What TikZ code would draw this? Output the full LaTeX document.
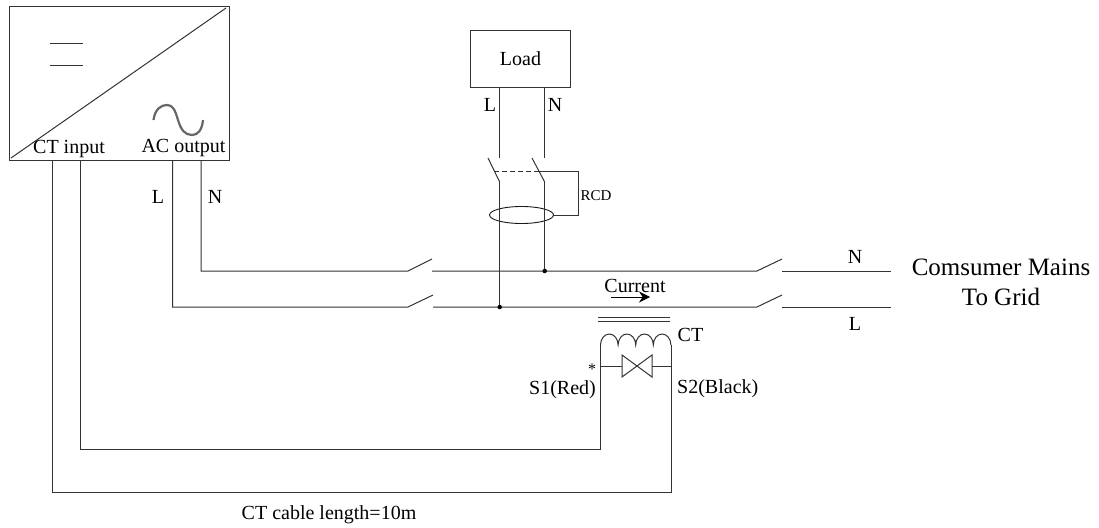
\documentclass[tikz,border=0pt]{standalone}
\usepackage{fontspec}
\setmainfont{Liberation Serif}
\usetikzlibrary{arrows.meta}
\usetikzlibrary{positioning}
\usetikzlibrary{shapes.geometric}
\tikzset{
	wire/.style={draw=black!80, line width=1pt},
	tag/.style={inner sep=0pt, font=\fontsize{20}{22}\selectfont},
	dotjoin/.style={circle, fill=black, inner sep=0pt, minimum size=4.5pt},
}

\begin{document}
\begin{tikzpicture}[x=1pt,y=-1pt]
	\useasboundingbox (0,0) rectangle (1099,527);

	% inverter box
	\node[wire, draw, minimum width=220.5pt, minimum height=154pt, inner sep=0pt, anchor=north west] (inverter) at (8.5,6) {};
	\coordinate (diagstart) at (11,158);
	\coordinate (diagend) at (226,8);
	\draw[wire] (diagstart) -- (diagend);
	\coordinate (dcA) at (50,44);
	\coordinate (dcB) at (83,44);
	\coordinate (dcC) at (50,65);
	\coordinate (dcD) at (83,65);
	\draw[wire] (dcA) -- (dcB);
	\draw[wire] (dcC) -- (dcD);
	\draw[draw=black!60, line width=2.2pt] (153.5,120) .. controls (155,109) and (161,105) .. (167,105) .. controls (173,105) and (175,110) .. (178,120) .. controls (181,130) and (185,135) .. (192,135) .. controls (198,135) and (202,130) .. (203,120);
	\node[tag] (ctinput) at (69,149) {CT input};
	\node[tag] (acoutput) at (183.5,148) {AC output};
	\node[tag] (invL) at (158,197) {L};
	\node[tag] (invN) at (215,197) {N};

	% load with its breaker
	\node[wire, draw, minimum width=100pt, minimum height=57pt, inner sep=0pt, anchor=north west, tag] (load) at (470,30) {Load};
	\node[tag] (loadL) at (490,105) {L};
	\node[tag] (loadN) at (555,105) {N};
	\coordinate (loadLtop) at (499.7,87);
	\coordinate (loadNtop) at (544.7,87);
	\coordinate (rcdLa) at (499.7,158);
	\coordinate (rcdNa) at (544.7,158);
	\coordinate (bladeLa) at (488,158);
	\coordinate (bladeLb) at (499.7,182);
	\coordinate (bladeNa) at (532,158);
	\coordinate (bladeNb) at (544.7,182);
	\draw[wire] (loadLtop) -- (rcdLa);
	\draw[wire] (loadNtop) -- (rcdNa);
	\draw[wire] (bladeLa) -- (bladeLb);
	\draw[wire] (bladeNa) -- (bladeNb);
	\coordinate (linkL) at (494,171);
	\coordinate (linkN) at (537,171);
	\draw[wire, dash pattern=on 5pt off 3pt] (linkL) -- (linkN);
	\node[draw=black!90, line width=.9pt, ellipse, minimum width=64pt, minimum height=17pt, inner sep=0pt] (coreRCD) at (521.5,215) {};
	\draw[wire] (linkN) -| (578,215) -- (coreRCD.east);
	\node[inner sep=0pt, font=\fontsize{15}{17}\selectfont] (rcd) at (596,196) {RCD};

	% mains
	\coordinate (Nstart) at (201,160);
	\coordinate (Lstart) at (172.5,160);
	\coordinate (Nbend) at (201,271);
	\coordinate (Lbend) at (172.5,307);
	\coordinate (NswA) at (408,271);
	\coordinate (NswB) at (432,259);
	\coordinate (NrunA) at (432,271);
	\coordinate (NswC) at (757,271);
	\coordinate (NswD) at (782,259);
	\coordinate (NrunB) at (782,271);
	\coordinate (Nend) at (891,271);
	\coordinate (LswA) at (408,307);
	\coordinate (LswB) at (433,295);
	\coordinate (LrunA) at (433,307);
	\coordinate (LswC) at (757,307);
	\coordinate (LswD) at (782,295);
	\coordinate (LrunB) at (782,307);
	\coordinate (Lend) at (891,307);
	\draw[wire] (Nstart) -- (Nbend) -- (NswA) -- (NswB);
	\draw[wire] (Lstart) -- (Lbend) -- (LswA) -- (LswB);
	\draw[wire] (NrunA) -- (NswC) -- (NswD);
	\draw[wire] (LrunA) -- (LswC) -- (LswD);
	\draw[wire] (NrunB) -- (Nend);
	\draw[wire] (LrunB) -- (Lend);
	\node[dotjoin] (dotN) at (544.7,271) {};
	\node[dotjoin] (dotL) at (499.7,307) {};
	\draw[wire] (bladeLb) -- (dotL);
	\draw[wire] (bladeNb) -- (dotN);
	\node[tag] (mainsN) at (855,257) {N};
	\node[tag] (mainsL) at (855,324) {L};
	\node[inner sep=0pt, align=center, font=\fontsize{25}{29.5}\selectfont] (grid) at (1001,282.5) {Comsumer Mains\\To Grid};
	\node[tag] (current) at (635,286) {Current};
	\coordinate (flowA) at (611,297);
	\coordinate (flowB) at (650,297);
	\draw[-{Stealth[length=11pt,width=11pt]}, line width=1pt] (flowA) -- (flowB);

	% current transformer
	\coordinate (coreA) at (598,317);
	\coordinate (coreB) at (670,317);
	\coordinate (coreC) at (598,321);
	\coordinate (coreD) at (670,321);
	\draw[wire] (coreA) -- (coreB);
	\draw[wire] (coreC) -- (coreD);
	\coordinate (coilL) at (600.5,345);
	\coordinate (coilR) at (671,345);
	\draw[wire] (coilL) arc[start angle=180, end angle=0, x radius=8.8pt, y radius=11pt]
		arc[start angle=180, end angle=0, x radius=8.8pt, y radius=11pt]
		arc[start angle=180, end angle=0, x radius=8.8pt, y radius=11pt]
		arc[start angle=180, end angle=0, x radius=8.8pt, y radius=11pt];
	\coordinate (tapL) at (622,366);
	\coordinate (tapR) at (652,366);
	\draw[wire] (600.5,366) -- (tapL);
	\draw[wire] (tapR) -- (671,366);
	\draw[wire] (tapL) -- ++(0,-11) -- ++(30,22) -- ++(0,-22) -- ++(-30,22) -- cycle;
	\node[tag] (ct) at (690.5,335) {CT};
	\node[inner sep=0pt, font=\fontsize{16}{18}\selectfont] (star) at (592,369) {*};
	\node[tag, anchor=east] (sone) at (596,390) {S1(Red)};
	\node[tag, anchor=west] (stwo) at (677,389) {S2(Black)};

	% CT cable
	\coordinate (cableA) at (80.5,160);
	\coordinate (cableB) at (52,160);
	\draw[wire] (cableA) |- (600.5,449) -- (coilL);
	\draw[wire] (cableB) |- (671,492) -- (coilR);
	\node[tag] (cablelen) at (329,515) {CT cable length=10m};
\end{tikzpicture}
\end{document}
